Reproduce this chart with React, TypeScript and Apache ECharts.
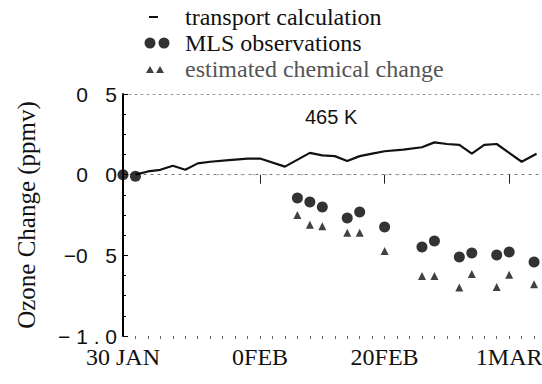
import React, { useEffect, useRef } from "react";
import * as echarts from "echarts";

// Days since 30 JAN (1992, leap year)
const transportDays = [1, 2, 3, 4, 5, 6, 7, 8.5, 10, 11, 13, 15, 16, 17, 18, 19, 20, 21, 22.5, 24, 25, 26, 27, 28, 29, 30, 31, 32, 33.2];
const transportValues = [0, 0.02, 0.03, 0.055, 0.03, 0.07, 0.08, 0.09, 0.1, 0.1, 0.05, 0.135, 0.12, 0.115, 0.085, 0.115, 0.13, 0.145, 0.155, 0.17, 0.2, 0.19, 0.185, 0.13, 0.185, 0.19, 0.135, 0.08, 0.13];

const mlsDays = [0, 1, 14, 15, 16, 18, 19, 21, 24, 25, 27, 28, 30, 31, 33];
const mlsValues = [0, -0.01, -0.144, -0.169, -0.2, -0.268, -0.231, -0.324, -0.448, -0.411, -0.51, -0.485, -0.498, -0.479, -0.541];

const chemDays = [14, 15, 16, 18, 19, 21, 24, 25, 27, 28, 30, 31, 33];
const chemValues = [-0.25, -0.31, -0.32, -0.36, -0.36, -0.473, -0.628, -0.628, -0.7, -0.616, -0.696, -0.62, -0.68];

const zeroRefDays = [7.5, 27];

const xLabelDays = [0, 11, 21, 31];
const xLabels = ["30 JAN", "0FEB", "20FEB", "1MAR"];
const xMajorTickDays = [11, 21, 31];
const xMinorTickDays = Array.from({ length: 35 }, (_, i) => i + 1);

const yTickValues = [-1, -0.5, 0, 0.5];
const yTickLabels = ["− 1 . 0", "−0   5", "0   0", "0   5"];

const seriesNames = ["transport calculation", "MLS observations", "estimated chemical change"];

const SERIF = "Liberation Serif";
const SANS = "Liberation Sans";

export default function App() {
  const ref = useRef<HTMLDivElement>(null);
  useEffect(() => {
    if (!ref.current) return;
    const chart = echarts.init(ref.current, undefined, { renderer: "svg" });
    const box = "M0,0M38,12";
    const legendText = (color: string) => ({ fontFamily: SERIF, fontSize: 24, color, lineHeight: 26 });
    chart.setOption({
      animation: false,
      backgroundColor: "#ffffff",
      textStyle: { fontFamily: SERIF },
      title: {
        text: "465 K",
        left: 300,
        top: 102,
        textStyle: { fontFamily: SANS, fontSize: 20, fontWeight: "normal", color: "#111" },
      },
      legend: {
        orient: "vertical",
        left: 142,
        top: 4,
        itemWidth: 38,
        itemHeight: 12,
        itemGap: 0,
        padding: 0,
        textStyle: legendText("#111"),
        data: [
          {
            name: seriesNames[0],
            icon: "path://" + box + "M7,5H16V7H7Z",
            itemStyle: { color: "#111", borderWidth: 0 },
            textStyle: legendText("#111"),
          },
          {
            name: seriesNames[1],
            icon: "path://" + box + "M2.5,6a5.5,5.5 0 1,0 11,0a5.5,5.5 0 1,0 -11,0ZM16.5,6a5.5,5.5 0 1,0 11,0a5.5,5.5 0 1,0 -11,0Z",
            itemStyle: { color: "#000", borderWidth: 0 },
            textStyle: legendText("#111"),
          },
          {
            name: seriesNames[2],
            icon: "path://" + box + "M4,10L8,3L12,10ZM14,10L18,3L22,10Z",
            itemStyle: { color: "#111", borderWidth: 0 },
            textStyle: legendText("#555"),
          },
        ],
      },
      grid: { left: 123, top: 94, width: 436, height: 242, outerBoundsMode: "none", containLabel: false },
      xAxis: [
        {
          type: "value",
          position: "bottom",
          min: 0,
          max: 35,
          axisLine: { show: true, lineStyle: { color: "#777", type: [2, 5], width: 1 } },
          axisTick: { show: true, customValues: xMajorTickDays, length: 9, lineStyle: { color: "#222", width: 1 } },
          axisLabel: {
            show: true,
            customValues: xLabelDays,
            formatter: (v: number) => xLabels[xLabelDays.indexOf(v)] ?? "",
            fontFamily: SERIF,
            fontSize: 24,
            color: "#111",
            margin: 9,
          },
          splitLine: { show: false },
        },
        {
          type: "value",
          position: "bottom",
          min: 0,
          max: 35,
          axisLine: { show: false },
          axisTick: { show: true, customValues: xMinorTickDays, length: 3, lineStyle: { color: "#666", width: 1 } },
          axisLabel: { show: false },
          splitLine: { show: false },
        },
        {
          type: "value",
          position: "top",
          min: 0,
          max: 35,
          axisLine: { show: true, lineStyle: { color: "#999", type: [2, 4], width: 1 } },
          axisTick: { show: false },
          axisLabel: { show: false },
          splitLine: { show: false },
        },
      ],
      yAxis: {
        type: "value",
        min: -1,
        max: 0.5,
        interval: 0.5,
        name: "Ozone Change (ppmv)",
        nameLocation: "middle",
        nameRotate: 90,
        nameGap: 84,
        nameTextStyle: { fontFamily: SERIF, fontSize: 25, color: "#111" },
        axisLine: { show: true, lineStyle: { color: "#000", width: 2 } },
        axisTick: { show: true, inside: true, length: 5, lineStyle: { color: "#000", width: 1 } },
        minorTick: { show: true, splitNumber: 4, length: 3, lineStyle: { color: "#000", width: 1 } },
        axisLabel: {
          formatter: (v: number) => yTickLabels[yTickValues.indexOf(v)] ?? "",
          fontFamily: SANS,
          fontSize: 21,
          color: "#111",
          margin: 6,
        },
        splitLine: { show: false },
      },
      series: [
        {
          name: "zero",
          type: "line",
          xAxisIndex: 0,
          data: zeroRefDays.map((d) => [d, 0]),
          symbol: "none",
          silent: true,
          lineStyle: { color: "#aaa", width: 1, type: [3, 9] },
          z: 1,
        },
        {
          name: seriesNames[0],
          type: "line",
          xAxisIndex: 0,
          data: transportDays.map((d, i) => [d, transportValues[i]]),
          symbol: "none",
          lineStyle: { color: "#111", width: 2.2 },
          itemStyle: { color: "#111" },
          z: 2,
        },
        {
          name: seriesNames[1],
          type: "scatter",
          xAxisIndex: 0,
          data: mlsDays.map((d, i) => [d, mlsValues[i]]),
          symbol: "circle",
          symbolSize: 11,
          itemStyle: { color: "#000" },
          z: 3,
        },
        {
          name: seriesNames[2],
          type: "scatter",
          xAxisIndex: 0,
          data: chemDays.map((d, i) => [d, chemValues[i]]),
          symbol: "triangle",
          symbolSize: 8,
          itemStyle: { color: "#111" },
          z: 3,
        },
      ],
    });
    return () => chart.dispose();
  }, []);
  return (
    <div
      ref={ref}
      style={{ position: "fixed", left: 0, top: 0, width: 542, height: 384, overflow: "hidden", background: "#fff" }}
    />
  );
}
